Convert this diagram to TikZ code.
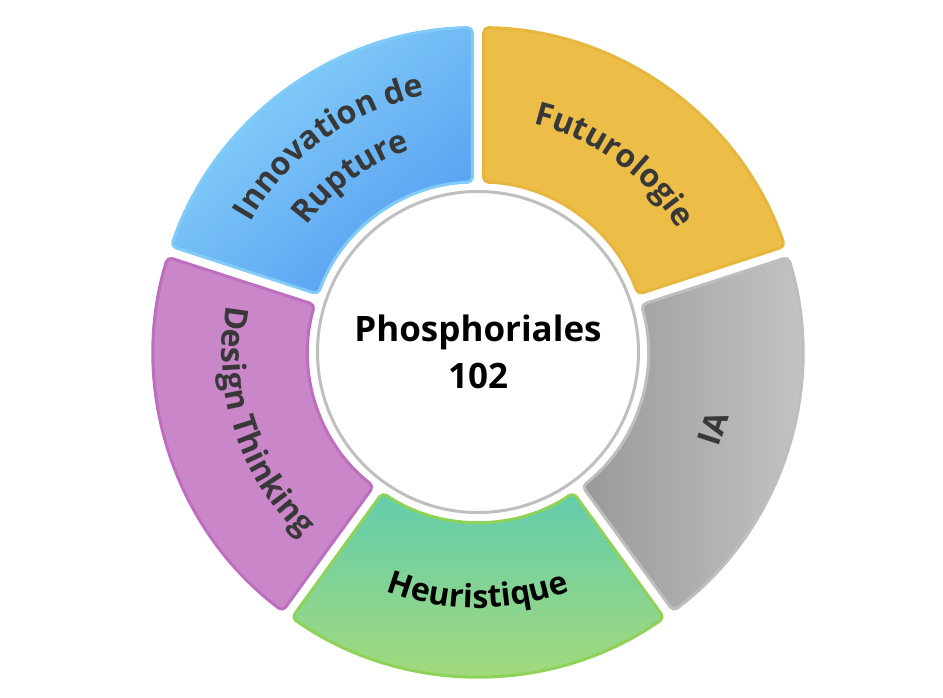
\documentclass[tikz,border=0pt]{standalone}
\usepackage{fontspec}
\setmainfont{Open Sans}
\usepackage{tikz}
\usetikzlibrary{decorations.text}

\definecolor{InnoTop}{HTML}{8AD5FA}
\definecolor{InnoBottom}{HTML}{559DF1}
\definecolor{InnoBorder}{HTML}{80CBF7}
\definecolor{FuturoFill}{HTML}{EDBE47}
\definecolor{FuturoBorder}{HTML}{E6B63F}
\definecolor{IADark}{HTML}{999999}
\definecolor{IALight}{HTML}{C8C8C8}
\definecolor{IABorder}{HTML}{BEBEBE}
\definecolor{HeurTop}{HTML}{62CDAD}
\definecolor{HeurBottom}{HTML}{A9DB77}
\definecolor{HeurBorder}{HTML}{8ED25A}
\definecolor{DesignFill}{HTML}{C986C9}
\definecolor{DesignBorder}{HTML}{BD6EBF}
\definecolor{HubBorder}{HTML}{BFBFBF}
\definecolor{LabelColor}{HTML}{383838}

\newcommand{\labelfont}{\fontsize{32}{38}\selectfont\bfseries}
\newcommand{\hubfont}{\fontsize{35}{47}\selectfont\bfseries}

\tikzstyle{segment} = [line width=3pt, rounded corners=5pt, line join=round]
\tikzstyle{futuroseg} = [draw=FuturoBorder, fill=FuturoFill]
\tikzstyle{innoseg} = [draw=InnoBorder, top color=InnoTop, bottom color=InnoBottom, shading angle=40]
\tikzstyle{designseg} = [draw=DesignBorder, fill=DesignFill]
\tikzstyle{heurseg} = [draw=HeurBorder, top color=HeurTop, bottom color=HeurBottom]
\tikzstyle{iaseg} = [draw=IABorder, left color=IADark, right color=IALight]
\tikzstyle{ringlabel} = [decorate, decoration={text along path, text align=center, text color=LabelColor}]
\tikzstyle{hub} = [circle, draw=HubBorder, line width=3pt, fill=white, minimum size=321pt, inner sep=0pt, align=center, font=\hubfont]

\begin{document}
\begin{tikzpicture}[x=1pt, y=1pt]
                \useasboundingbox (-478,-345) rectangle (465,352);

                % Ring segments
                \foreach \from/\to/\look in {18/90/futuroseg, 90/162/innoseg, 162/234/designseg, 234/306/heurseg, -54/18/iaseg}
                    \path[segment, \look] ({\from+1}:324.5) arc[start angle=\from+1, end angle=\to-1, radius=324.5]
                        -- ({\to-1.85}:170) arc[start angle=\to-1.85, end angle=\from+1.85, radius=170] -- cycle;

                % Centre
                \node[hub] (hub) at (0,0) {Phosphoriales\\102};

                % Labels along the ring
                \path[ringlabel, decoration={text={|\labelfont|Futurologie}}] (100:235) arc[start angle=100, end angle=8, radius=235];
                \path[ringlabel, decoration={text={|\labelfont|Innovation de}}] (176:262) arc[start angle=176, end angle=76, radius=262];
                \path[ringlabel, decoration={text={|\labelfont|Rupture}}] (176:213) arc[start angle=176, end angle=76, radius=213];
                \path[ringlabel, decoration={text={|\labelfont|Design Thinking}}] (145:256) arc[start angle=145, end angle=251, radius=256];
                \path[ringlabel, decoration={text color=black, text={|\labelfont|Heuristique}}] (220:256) arc[start angle=220, end angle=320, radius=256];
                \node[rotate=72, font=\labelfont, text=LabelColor] (ia) at (-18:247) {IA};
            \end{tikzpicture}
\end{document}
